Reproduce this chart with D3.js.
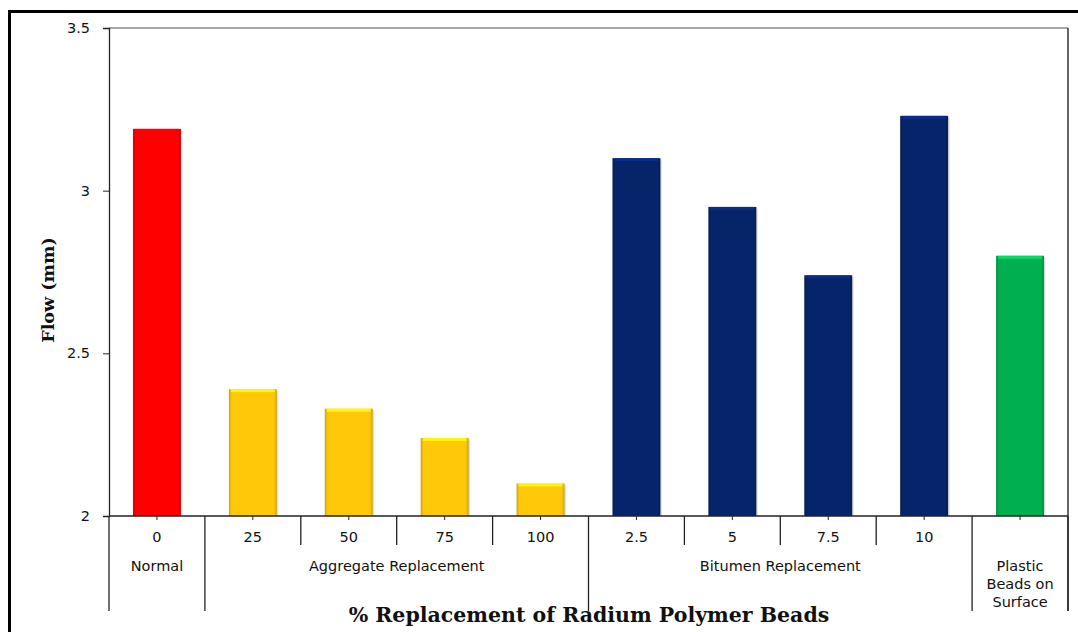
<!DOCTYPE html>
<html><head><meta charset="utf-8">
<script src="https://cdn.jsdelivr.net/npm/d3@7"></script>
<style>body{margin:0;background:#fff}svg{display:block}</style>
</head><body>
<script>
const categories = ["0","25","50","75","100","2.5","5","7.5","10",""];
const values = [3.19,2.39,2.33,2.24,2.10,3.10,2.95,2.74,3.23,2.80];
const groupOf = [0,1,1,1,1,2,2,2,2,3];
const groups = [["Normal"],["Aggregate Replacement"],["Bitumen Replacement"],["Plastic","Beads on","Surface"]];
const groupColors = ["#FF0000","#FFC90A","#06246A","#00B050"];
const yTicks = [2,2.5,3,3.5];

const W=1078,H=632;
const svg=d3.select("body").append("svg").attr("width",W).attr("height",H);
const L=109,R=1068,T=28,B=516;
const x=d3.scaleBand().domain(d3.range(categories.length)).range([L,R]).paddingInner(0.5).paddingOuter(0.25);
const y=d3.scaleLinear().domain([2,3.5]).range([B,T]);
const FS=14.5;

// outer frame
svg.append("rect").attr("x",9.5).attr("y",11.5).attr("width",1080).attr("height",640).attr("fill","none").attr("stroke","#000").attr("stroke-width",3);

const defs=svg.append("defs");
groupColors.forEach((c,i)=>{
  const g=defs.append("linearGradient").attr("id","hg"+i).attr("x1",0).attr("x2",1).attr("y1",0).attr("y2",0);
  g.append("stop").attr("offset","0").attr("stop-color",d3.color(c).darker(0.6));
  g.append("stop").attr("offset","0.06").attr("stop-color",c);
  g.append("stop").attr("offset","0.94").attr("stop-color",c);
  g.append("stop").attr("offset","1").attr("stop-color",d3.color(c).darker(0.6));
});

// plot border: top and right
svg.append("line").attr("x1",L).attr("x2",R).attr("y1",T).attr("y2",T).attr("stroke","#888").attr("stroke-width",1.5);
svg.append("line").attr("x1",R).attr("x2",R).attr("y1",T).attr("y2",611).attr("stroke","#333").attr("stroke-width",1.5);

// bars
const bw=x.bandwidth();
const bars=svg.append("g");
values.forEach((v,i)=>{
  const c=groupColors[groupOf[i]];
  bars.append("rect").attr("x",x(i)+1.5).attr("y",y(v)+1.5).attr("width",bw).attr("height",B-y(v)-1.5).attr("fill","#000").attr("opacity",0.12);
  bars.append("rect").attr("x",x(i)).attr("y",y(v)).attr("width",bw).attr("height",B-y(v)).attr("fill","url(#hg"+groupOf[i]+")");
  bars.append("rect").attr("x",x(i)+2).attr("y",y(v)).attr("width",bw-4).attr("height",3).attr("fill",d3.color(c).brighter(0.8)).attr("opacity",0.8);
});

// y axis
const ya=svg.append("g").attr("transform",`translate(${L},0)`).call(d3.axisLeft(y).tickValues(yTicks).tickFormat(d3.format("")).tickSize(6).tickPadding(13));
ya.select(".domain").attr("stroke","#222").attr("stroke-width",1.3);
ya.selectAll(".tick line").attr("stroke","#222");
ya.selectAll("text").attr("font-family","DejaVu Sans").attr("font-size",FS).attr("fill","#111");

// x axis baseline
svg.append("line").attr("x1",L).attr("x2",R).attr("y1",B).attr("y2",B).attr("stroke","#222").attr("stroke-width",1.3);
const step=x.step();
categories.forEach((c,i)=>{
  const cx=x(i)+bw/2;
  svg.append("line").attr("x1",cx).attr("x2",cx).attr("y1",B).attr("y2",B+4).attr("stroke","#222");
  svg.append("text").attr("x",cx).attr("y",541.5).attr("text-anchor","middle").attr("font-family","DejaVu Sans").attr("font-size",FS).attr("fill","#111").text(c);
});
for(let i=0;i<=categories.length;i++){
  const bx=L+i*step;
  const isGroup = i===0||i===categories.length||groupOf[i]!==groupOf[i-1];
  svg.append("line").attr("x1",bx).attr("x2",bx).attr("y1",B).attr("y2",isGroup?611:545).attr("stroke","#222").attr("stroke-width",1.3);
}
groups.forEach((lines,gi)=>{
  const idx=d3.range(categories.length).filter(i=>groupOf[i]===gi);
  const cx=(L+idx[0]*step + L+(idx[idx.length-1]+1)*step)/2;
  lines.forEach((t,k)=>{
    svg.append("text").attr("x",cx).attr("y",570.5+k*18).attr("text-anchor","middle").attr("font-family","DejaVu Sans").attr("font-size",FS).attr("fill","#111").text(t);
  });
});

svg.append("text").attr("x",589).attr("y",622).attr("text-anchor","middle").attr("font-family","DejaVu Serif").attr("font-weight","bold").attr("font-size",20.5).attr("fill","#111").text("% Replacement of Radium Polymer Beads");
svg.append("text").attr("transform","translate(54,290) rotate(-90)").attr("text-anchor","middle").attr("font-family","DejaVu Serif").attr("font-weight","bold").attr("font-size",17.5).attr("fill","#111").text("Flow (mm)");
</script>
</body></html>
